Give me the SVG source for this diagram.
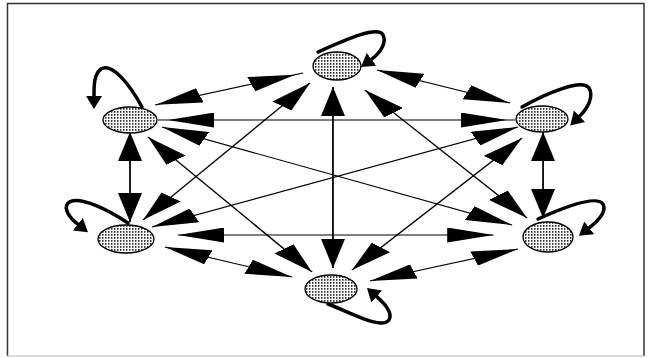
<svg xmlns="http://www.w3.org/2000/svg" width="652" height="358" viewBox="0 0 652 358">
<style>
.e{stroke:#000;stroke-width:1.1;fill:none}
.m{stroke:#000;stroke-width:1.1;fill:none;marker-start:url(#ah);marker-end:url(#ah)}
.t{stroke:none;fill:none;marker-start:url(#ah);marker-end:url(#ah)}
.loop{stroke:#000;stroke-width:3.5;fill:none;stroke-linecap:round;marker-end:url(#lh)}
.node{fill:url(#dots);stroke:#000;stroke-width:1.3}
.frame{stroke:#333;stroke-width:1.5;fill:none}
</style>
<defs>
<marker id="ah" markerUnits="userSpaceOnUse" viewBox="0 0 29 15" refX="29" refY="7.5" markerWidth="29" markerHeight="15" orient="auto-start-reverse">
<path d="M0,0 L29,7.5 L0,15 Z" fill="#000"/>
</marker>
<marker id="lh" markerUnits="userSpaceOnUse" viewBox="0 0 13 16" refX="0" refY="8" markerWidth="13" markerHeight="16" orient="auto">
<path d="M0,0 L13,8 L0,16 Z" fill="#000"/>
</marker>
<pattern id="dots" patternUnits="userSpaceOnUse" width="3" height="3">
<rect width="3" height="3" fill="#fff"/>
<rect width="1.5" height="1.8" fill="#333"/>
</pattern>
</defs>
<rect width="652" height="358" fill="#fff"/>
<path class="frame" d="M7.5,356 L7.5,3.5 L644,3.5 L644,356"/>
<path d="M7.5,356 L644,356" stroke="#ccc" stroke-width="1.5"/>
<g id="connectors">
<g transform="scale(1.6 1)">
<line class="e" x1="96.9" y1="105" x2="189.4" y2="73"/>
<line class="t" x1="97.5" y1="104.8" x2="184.4" y2="74.7"/>
<line class="m" x1="235.6" y1="70" x2="318.8" y2="103"/>
<line class="e" x1="98.75" y1="120" x2="321.9" y2="120"/>
<line class="t" x1="105" y1="120" x2="316.9" y2="120"/>
<line class="m" x1="208.1" y1="87" x2="208.1" y2="268"/>
<line class="m" x1="81.25" y1="132" x2="81.25" y2="222"/>
<line class="m" x1="339.4" y1="132" x2="339.4" y2="218"/>
<line class="m" x1="111.25" y1="235" x2="308.5" y2="235"/>
<line class="m" x1="103.1" y1="247" x2="182.5" y2="277"/>
<line class="m" x1="231.25" y1="281" x2="323.75" y2="249"/>
<line class="m" x1="101.25" y1="127" x2="320" y2="225"/>
<line class="m" x1="323.75" y1="127" x2="95" y2="227"/>
<line class="m" x1="193.75" y1="83" x2="89.4" y2="220"/>
<line class="m" x1="228.1" y1="90" x2="329.4" y2="218"/>
<line class="m" x1="92.5" y1="137" x2="195" y2="272"/>
<line class="m" x1="326.25" y1="138" x2="220" y2="270"/>
</g>
<path class="loop" d="M318,52 C345,40 378,25 383,35 C387,43 380,53 371.5,59.3"/>
<path class="loop" d="M142,107 C130,85 112,62 101,69 C94,74 94,85 94,96"/>
<path class="loop" d="M522,107 C545,94 582,78 589,88 C594,96 588,108 579.5,116.3"/>
<path class="loop" d="M128,223 C110,211 78,194 68,203 C63,209 70,218 77.8,224.2"/>
<path class="loop" d="M538,219 C560,209 596,194 603,204 C607,212 598,221 589.2,227.8"/>
<path class="loop" d="M328,304 C352,313 381,330 389,320 C393,313 384,303 376.7,296.6"/>
</g>
<g id="node-top"><ellipse class="node" cx="337" cy="66" rx="24" ry="14"/></g>
<g id="node-upper-left"><ellipse class="node" cx="130" cy="120" rx="27" ry="13"/></g>
<g id="node-upper-right"><ellipse class="node" cx="542" cy="119" rx="26" ry="13"/></g>
<g id="node-lower-left"><ellipse class="node" cx="126" cy="239" rx="28" ry="14"/></g>
<g id="node-lower-right"><ellipse class="node" cx="548" cy="237" rx="25" ry="15"/></g>
<g id="node-bottom"><ellipse class="node" cx="331" cy="289" rx="26" ry="14"/></g>
</svg>
